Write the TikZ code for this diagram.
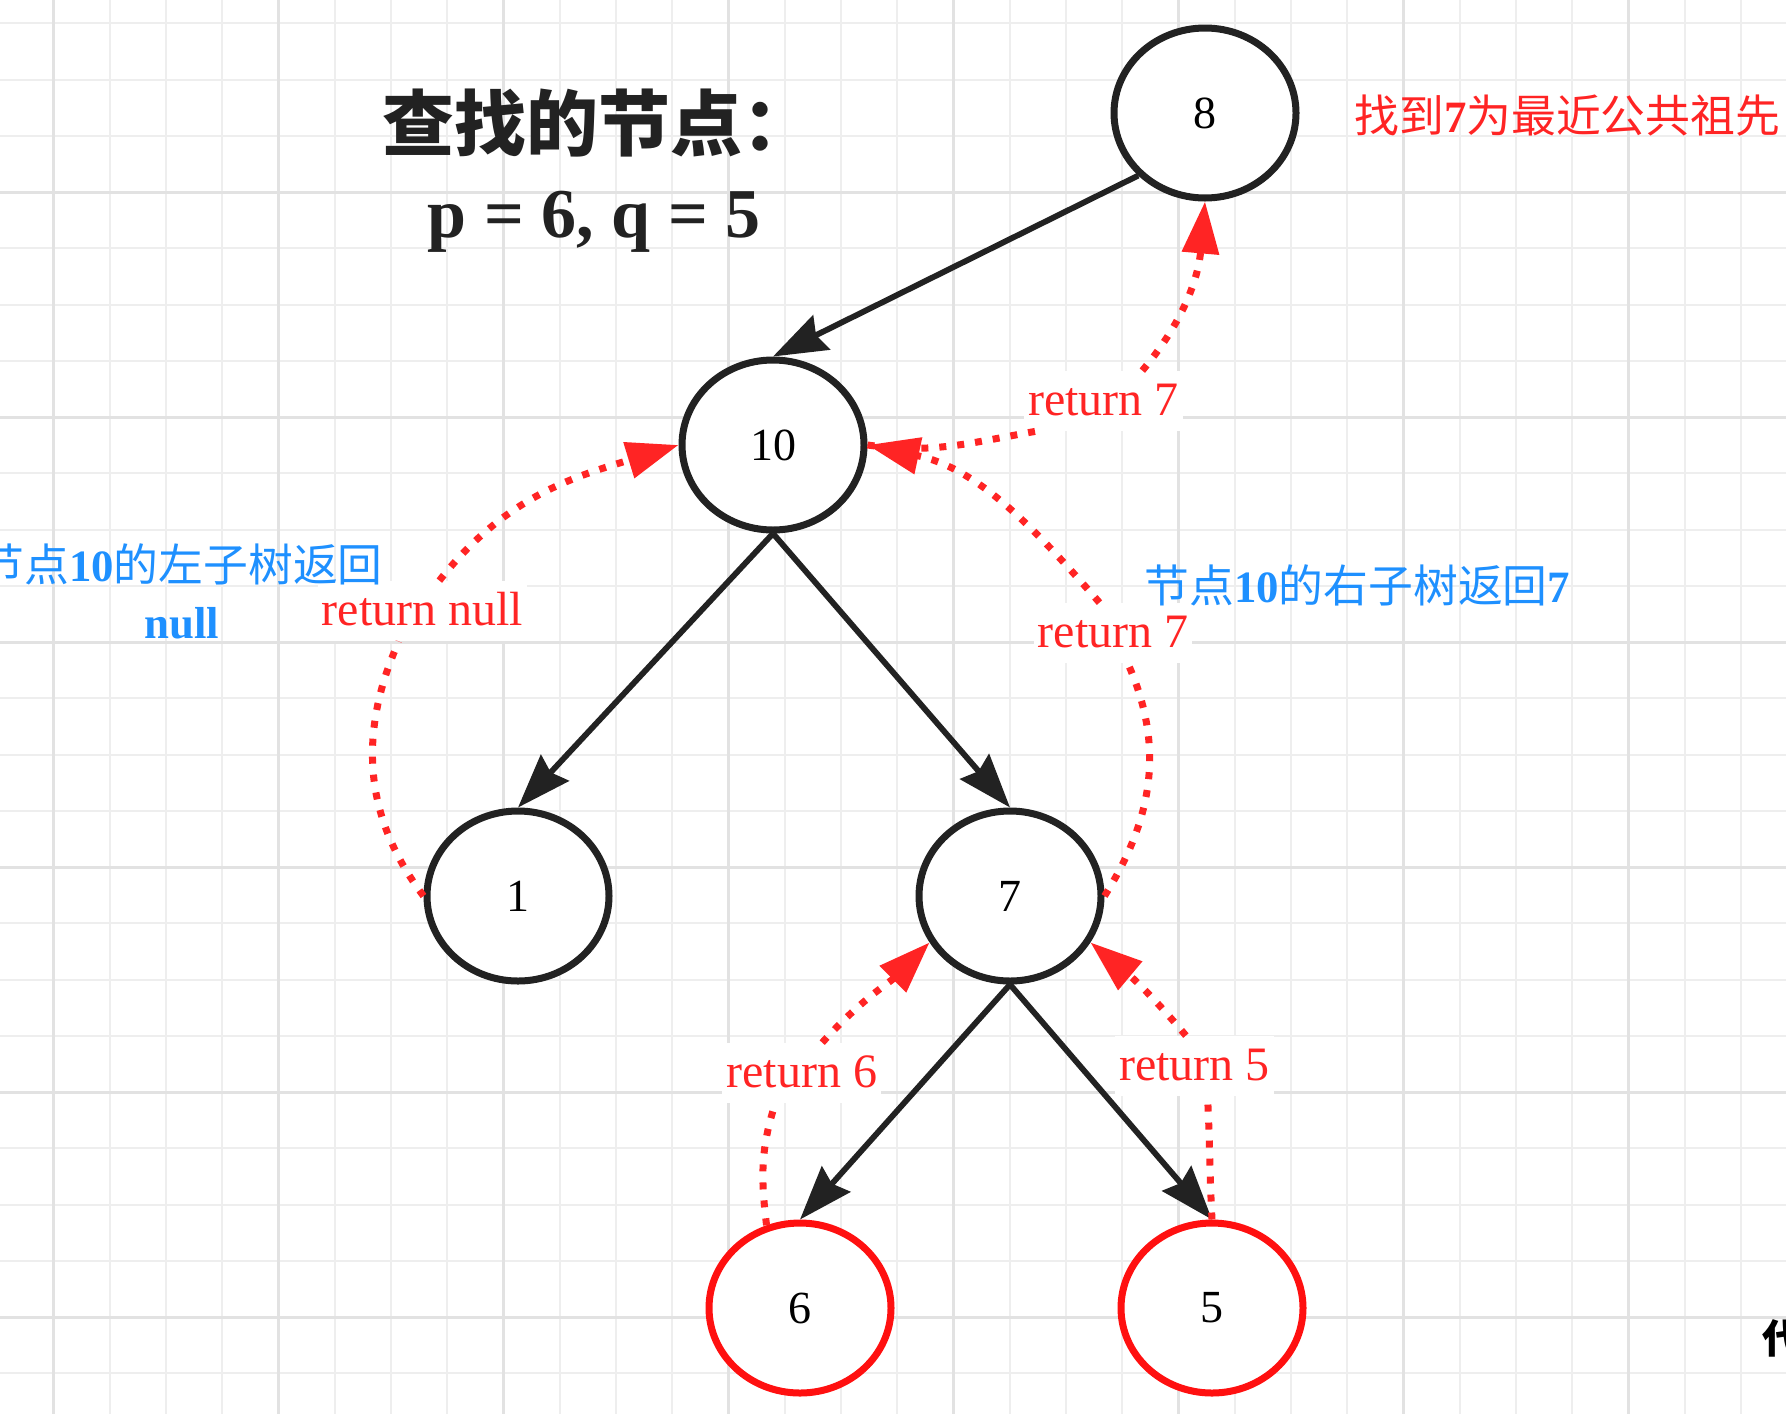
\documentclass[tikz,border=0pt]{standalone}
\usepackage{fontspec}
\setmainfont{Liberation Serif}
\newfontfamily\cjk{Noto Sans CJK SC}
\usepackage{xcolor}
\usetikzlibrary{shapes.geometric, arrows.meta, positioning, calc}

\definecolor{inkblack}{HTML}{222222}
\definecolor{hitred}{HTML}{FF1010}
\definecolor{retred}{HTML}{FF2424}
\definecolor{noteblue}{HTML}{1E90FF}
\definecolor{gridminor}{HTML}{EEEEEE}
\definecolor{gridmajor}{HTML}{E2E2E2}

\newcommand{\digits}[1]{{\rmfamily\bfseries #1}}

\begin{document}
\begin{tikzpicture}[x=0.5pt, y=0.5pt,
  treenode/.style={ellipse, draw=inkblack, line width=3.5pt, fill=white, minimum width=91pt, minimum height=85pt, inner sep=0pt, font=\fontsize{23pt}{26pt}\selectfont},
  hitnode/.style={treenode, draw=hitred},
  treeedge/.style={draw=inkblack, line width=2.9pt, -{Stealth[length=27pt, width=19pt, inset=3pt]}},
  ret/.style={draw=retred, line width=3.5pt, dash pattern=on 3.5pt off 5.5pt, -{Triangle[length=26pt, width=18pt]}},
  retlabel/.style={fill=white, text=retred, inner sep=2pt, text height=20pt, text depth=6pt, font=\fontsize{24pt}{28pt}\selectfont, anchor=base},
  notetext/.style={text=noteblue, inner sep=0pt, font=\fontsize{22.4pt}{27pt}\selectfont}
]
\useasboundingbox (0,0) rectangle (1786,-1414);
\fill[white] (0,0) rectangle (1786,-1414);

% grid paper
\foreach \i in {0,...,32} \draw[gridminor, line width=1pt] ({-2.85+56.25*\i},0) -- ++(0,-1414);
\foreach \j in {1,...,25} \draw[gridminor, line width=1pt] (0,{33-56.25*\j}) -- ++(1786,0);
\foreach \i in {0,...,7} \draw[gridmajor, line width=1.5pt] ({53.4+225*\i},0) -- ++(0,-1414);
\foreach \j in {1,...,6} \draw[gridmajor, line width=1.5pt] (0,{33-225*\j}) -- ++(1786,0);

% tree
\node[treenode] (n8) at (1205,-113) {8};
\node[treenode] (n10) at (773,-445) {10};
\node[treenode] (n1) at (518,-896) {1};
\node[treenode] (n7) at (1010,-896) {7};
\node[hitnode] (n6) at (800,-1308) {6};
\node[hitnode] (n5) at (1212,-1308) {5};

\draw[treeedge] (n8.south west) -- (n10.north);
\draw[treeedge] (n10.south) -- (n1.north);
\draw[treeedge] (n10.south) -- (n7.north);
\draw[treeedge] (n7.south) -- (n6.north);
\draw[treeedge] (n7.south) -- (n5.north);

% return values
\node[retlabel] (r7a) at (1103.4,-415) {return 7};
\node[retlabel] (r7b) at (1113,-647) {return 7};
\node[retlabel] (rnull) at (422.5,-625) {return null};
\node[retlabel] (r6) at (801.7,-1087) {return 6};
\node[retlabel] (r5) at (1194.6,-1080) {return 5};

\draw[ret] (n6.112) to[out=97,in=-108] (r6.-131) (r6.56) to[out=48,in=225] (n7.210);
\draw[ret] (n5.north) to[out=93,in=-87] (r5.-67) (r5.106) to[out=130,in=-40] (n7.330);
\draw[ret] (n7.east) to[out=58,in=-66] (r7b.-64) (r7b.114) to[out=131,in=-12] (n10.east);
\draw[ret] (n1.west) to[out=127,in=-114] (rnull.-128) (rnull.61) to[out=52,in=197] (n10.west);
\draw[ret] (n10.east) to[out=-8,in=190] (r7a.204) (r7a.38) to[out=50,in=-95] (n8.south);

% notes
\node[anchor=base west, inner sep=0pt, text=inkblack, font=\fontsize{36pt}{40pt}\selectfont\cjk\bfseries] (title) at (382,-150) {查找的节点：};
\node[anchor=base east, inner sep=0pt, text=inkblack, font=\fontsize{35pt}{40pt}\selectfont\bfseries] (pq) at (761,-237) {p = 6, q = 5};
\node[anchor=base west, inner sep=0pt, text=retred, font=\fontsize{22.4pt}{27pt}\selectfont] (found) at (1354,-132) {{\cjk 找到}\digits{7}{\cjk 为最近公共祖先}};
\node[notetext, anchor=base] (leftnote) at (181,-581) {{\cjk 节点}\digits{10}{\cjk 的左子树返回}};
\node[notetext, anchor=base] (leftnull) at (182,-638) {\digits{null}};
\node[notetext, anchor=base west] (rightnote) at (1144,-602) {{\cjk 节点}\digits{10}{\cjk 的右子树返回}\digits{7}};
\node[anchor=base west, inner sep=0pt, text=black, font=\fontsize{20pt}{24pt}\selectfont\cjk\bfseries] (mark) at (1762,-1353) {代};
\end{tikzpicture}
\end{document}
